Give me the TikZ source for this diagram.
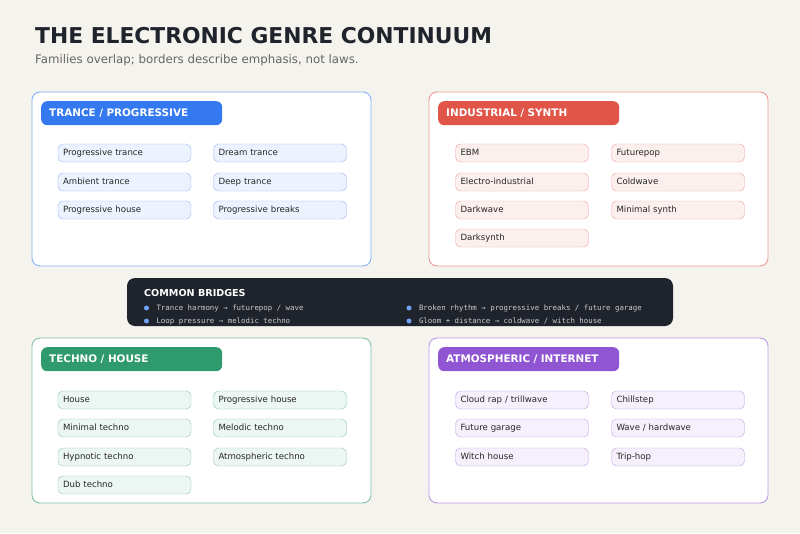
\documentclass[tikz,border=0pt]{standalone}
\usepackage{fontspec}
\setmainfont{DejaVu Sans}
\setmonofont{DejaVu Sans Mono}
\begin{document}
\begin{tikzpicture}[x=1pt,y=-1pt,
 panel/.style={draw=#1!60!white,fill=white,rounded corners=8pt,line width=0.9pt},
 head/.style={fill=#1,rounded corners=6pt,anchor=north west,minimum width=181pt,minimum height=24pt,text=white,font=\bfseries\fontsize{10.4}{12}\selectfont,align=left,text width=165pt,inner sep=0pt},
 chip/.style={draw=#1!55!white,fill=#1!9!white,rounded corners=5pt,minimum width=133pt,minimum height=18pt,text width=123pt,align=left,inner sep=0pt,text height=6pt,text depth=1.5pt,font=\fontsize{8.6}{9}\selectfont,text=black!85},
 bt/.style={anchor=west,font=\ttfamily\fontsize{7.4}{8}\selectfont,text=white!80!black},
 dot/.style={circle,fill=cB!70!white,inner sep=0pt,minimum size=5pt}]
\definecolor{bg}{HTML}{F5F3EE}
\definecolor{cB}{HTML}{3479F0}
\definecolor{cR}{HTML}{E05548}
\definecolor{cG}{HTML}{2F9A6D}
\definecolor{cP}{HTML}{8F55D3}
\definecolor{dk}{HTML}{1F232B}
\fill[bg] (0,0) rectangle (800,533);
\useasboundingbox (0,0) rectangle (800,533);
\node[anchor=west,font=\bfseries\fontsize{21.8}{24}\selectfont,text=dk,inner sep=0] (title) at (35,36) {THE ELECTRONIC GENRE CONTINUUM};
\node[anchor=west,font=\fontsize{11.8}{14}\selectfont,text=black!60,inner sep=0] (sub) at (35,60) {Families overlap; borders describe emphasis, not laws.};
% panels
\draw[panel=cB] (32,92) rectangle (371,266);
\draw[panel=cR] (429,92) rectangle (768,266);
\draw[panel=cG] (32,338) rectangle (371,503);
\draw[panel=cP] (429,338) rectangle (768,503);
\node[head=cB] (h1) at (41,101) {TRANCE / PROGRESSIVE};
\node[head=cR] (h2) at (438,101) {INDUSTRIAL / SYNTH};
\node[head=cG] (h3) at (41,347) {TECHNO / HOUSE};
\node[head=cP] (h4) at (438,347) {ATMOSPHERIC / INTERNET};
% chips TL
\node[chip=cB] (a1) at (124.5,153) {Progressive trance};
\node[chip=cB] (a2) at (280,153) {Dream trance};
\node[chip=cB] (a3) at (124.5,182) {Ambient trance};
\node[chip=cB] (a4) at (280,182) {Deep trance};
\node[chip=cB] (a5) at (124.5,210) {Progressive house};
\node[chip=cB] (a6) at (280,210) {Progressive breaks};
% TR
\node[chip=cR] (b1) at (522,153) {EBM};
\node[chip=cR] (b2) at (678,153) {Futurepop};
\node[chip=cR] (b3) at (522,182) {Electro-industrial};
\node[chip=cR] (b4) at (678,182) {Coldwave};
\node[chip=cR] (b5) at (522,210) {Darkwave};
\node[chip=cR] (b6) at (678,210) {Minimal synth};
\node[chip=cR] (b7) at (522,238) {Darksynth};
% BL
\node[chip=cG] (c1) at (124.5,400) {House};
\node[chip=cG] (c2) at (280,400) {Progressive house};
\node[chip=cG] (c3) at (124.5,428) {Minimal techno};
\node[chip=cG] (c4) at (280,428) {Melodic techno};
\node[chip=cG] (c5) at (124.5,457) {Hypnotic techno};
\node[chip=cG] (c6) at (280,457) {Atmospheric techno};
\node[chip=cG] (c7) at (124.5,485) {Dub techno};
% BR
\node[chip=cP] (d1) at (522,400) {Cloud rap / trillwave};
\node[chip=cP] (d2) at (678,400) {Chillstep};
\node[chip=cP] (d3) at (522,428) {Future garage};
\node[chip=cP] (d4) at (678,428) {Wave / hardwave};
\node[chip=cP] (d5) at (522,457) {Witch house};
\node[chip=cP] (d6) at (678,457) {Trip-hop};
% bridges
\fill[dk,rounded corners=8pt] (127,278) rectangle (673,326);
\node[anchor=west,text=white,font=\bfseries\fontsize{9.6}{11}\selectfont,inner sep=0] (bh) at (144,293) {COMMON BRIDGES};
\node[dot] (p1) at (146.5,308) {};
\node[bt] (t1) at (153,308) {Trance harmony → futurepop / wave};
\node[dot] (p2) at (146.5,321) {};
\node[bt] (t2) at (153,321) {Loop pressure → melodic techno};
\node[dot] (p3) at (409,308) {};
\node[bt] (t3) at (415.5,308) {Broken rhythm → progressive breaks / future garage};
\node[dot] (p4) at (409,321) {};
\node[bt] (t4) at (415.5,321) {Gloom + distance → coldwave / witch house};
\end{tikzpicture}
\end{document}
